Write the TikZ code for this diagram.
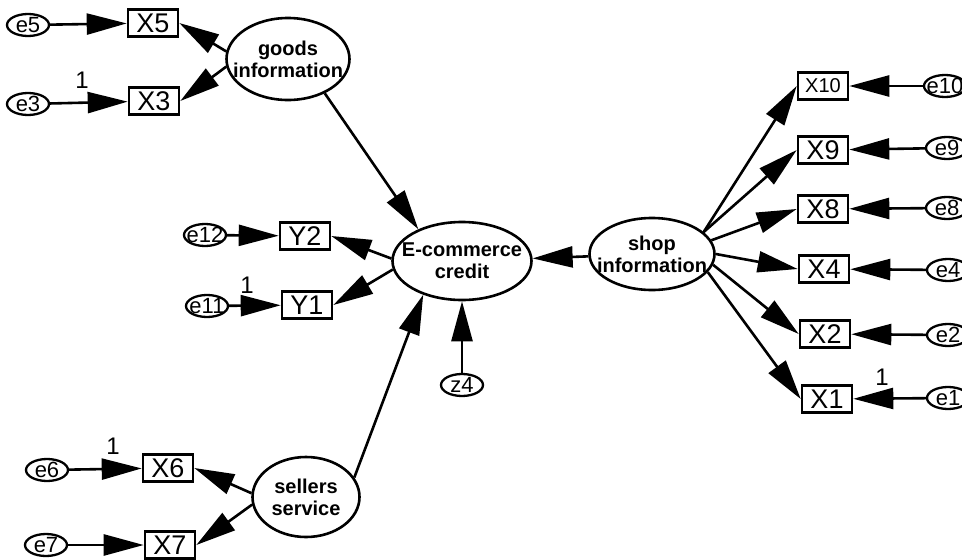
\documentclass[tikz,border=0pt]{standalone}
\usepackage{fontspec}
\setmainfont{Liberation Sans}
\usetikzlibrary{arrows.meta}
\usetikzlibrary{shapes.geometric}
\tikzset{>={Triangle[length=40pt,width=21pt]}}
\tikzset{
lat/.style = {ellipse, draw, inner xsep=-14pt, inner ysep=0pt, align=center,
              font=\fontsize{20}{22}\selectfont\bfseries},
obs/.style = {rectangle, draw, inner sep=0pt, minimum width=50pt, minimum height=27pt,
              font=\fontsize{27}{27}\selectfont},
err/.style = {ellipse, draw, line width=2.3pt, inner sep=-5pt, minimum width=42pt, minimum height=22pt,
              font=\fontsize{22}{22}\selectfont},
one/.style = {inner sep=0pt, font=\fontsize{24}{24}\selectfont},
}

\begin{document}
\begin{tikzpicture}[x=1pt, y=-1pt, line width=2.6pt]
	\useasboundingbox (0, 0) rectangle (962, 560);
	% latent variables
	\node [lat, minimum width=123pt, minimum height=82pt] (goods) at (288, 59) {goods\\information};
	\node [lat, minimum width=139pt, minimum height=78pt] (ecom) at (462, 261) {E-commerce\\credit};
	\node [lat, minimum width=107pt, minimum height=80pt] (sell) at (306, 497) {sellers\\service};
	\node [lat, minimum width=125pt, minimum height=72pt] (shop) at (652, 254) {shop\\information};
	% observed variables
	\node [obs] (X5) at (153, 23) {X5};
	\node [obs] (X3) at (154, 101) {X3};
	\node [obs] (Y2) at (305, 236) {Y2};
	\node [obs] (Y1) at (307, 305) {Y1};
	\node [obs] (X6) at (168, 468) {X6};
	\node [obs] (X7) at (170, 545) {X7};
	\node [obs, font=\fontsize{20}{20}\selectfont] (X10) at (823, 86) {X10};
	\node [obs] (X9) at (823, 150) {X9};
	\node [obs] (X8) at (823, 209) {X8};
	\node [obs] (X4) at (824, 269) {X4};
	\node [obs] (X2) at (825, 334) {X2};
	\node [obs] (X1) at (827, 399) {X1};
	% errors
	\node [err] (e5) at (28, 25) {e5};
	\node [err] (e3) at (28, 104) {e3};
	\node [err] (e12) at (205, 235) {e12};
	\node [err] (e11) at (207, 306) {e11};
	\node [err] (e6) at (47, 470) {e6};
	\node [err] (e7) at (46, 545) {e7};
	\node [err] (z4) at (462, 385) {z4};
	\node [err] (e10) at (945, 86) {e10};
	\node [err] (e9) at (947, 148) {e9};
	\node [err] (e8) at (947, 208) {e8};
	\node [err] (e4) at (948, 270) {e4};
	\node [err] (e2) at (948, 335) {e2};
	\node [err] (e1) at (948, 398) {e1};
	% fixed loadings
	\node [one] (o3) at (82, 80) {1};
	\node [one] (o11) at (247, 285) {1};
	\node [one] (o6) at (113, 446) {1};
	\node [one] (o1) at (882, 377) {1};
	% paths
	\draw [->] (e5) to (X5);
	\draw [->] (e3) to (X3);
	\draw [->] (e12) to (Y2);
	\draw [->] (e11) to (Y1);
	\draw [->] (e6) to (X6);
	\draw [->] (e7) to (X7);
	\draw [->] (e10) to (X10);
	\draw [->] (e9) to (X9);
	\draw [->] (e8) to (X8);
	\draw [->] (e4) to (X4);
	\draw [->] (e2) to (X2);
	\draw [->] (e1) to (X1);
	\draw [->] (goods.173) to (X5.east);
	\draw [->] (goods.187) to (X3.east);
	\draw [->] (goods.-43) to (ecom.144);
	\draw [->] (ecom.178) to (Y2.east);
	\draw [->] (ecom.187) to (Y1.east);
	\draw [->] (sell.22) to (ecom.-139);
	\draw [->] (sell.176) to (X6.east);
	\draw [->] (sell.188) to (X7.east);
	\draw [->] (z4) to (ecom);
	\draw [->] (shop) to (ecom);
	\draw [->] (shop.23) to (X10.west);
	\draw [->] (shop.23) to (X9.west);
	\draw [->] (shop.13) to (X8.west);
	\draw [->] (shop.0) to (X4.west);
	\draw [->] (shop.-10) to (X2.west);
	\draw [->] (shop.-18) to (X1.west);
\end{tikzpicture}
\end{document}
